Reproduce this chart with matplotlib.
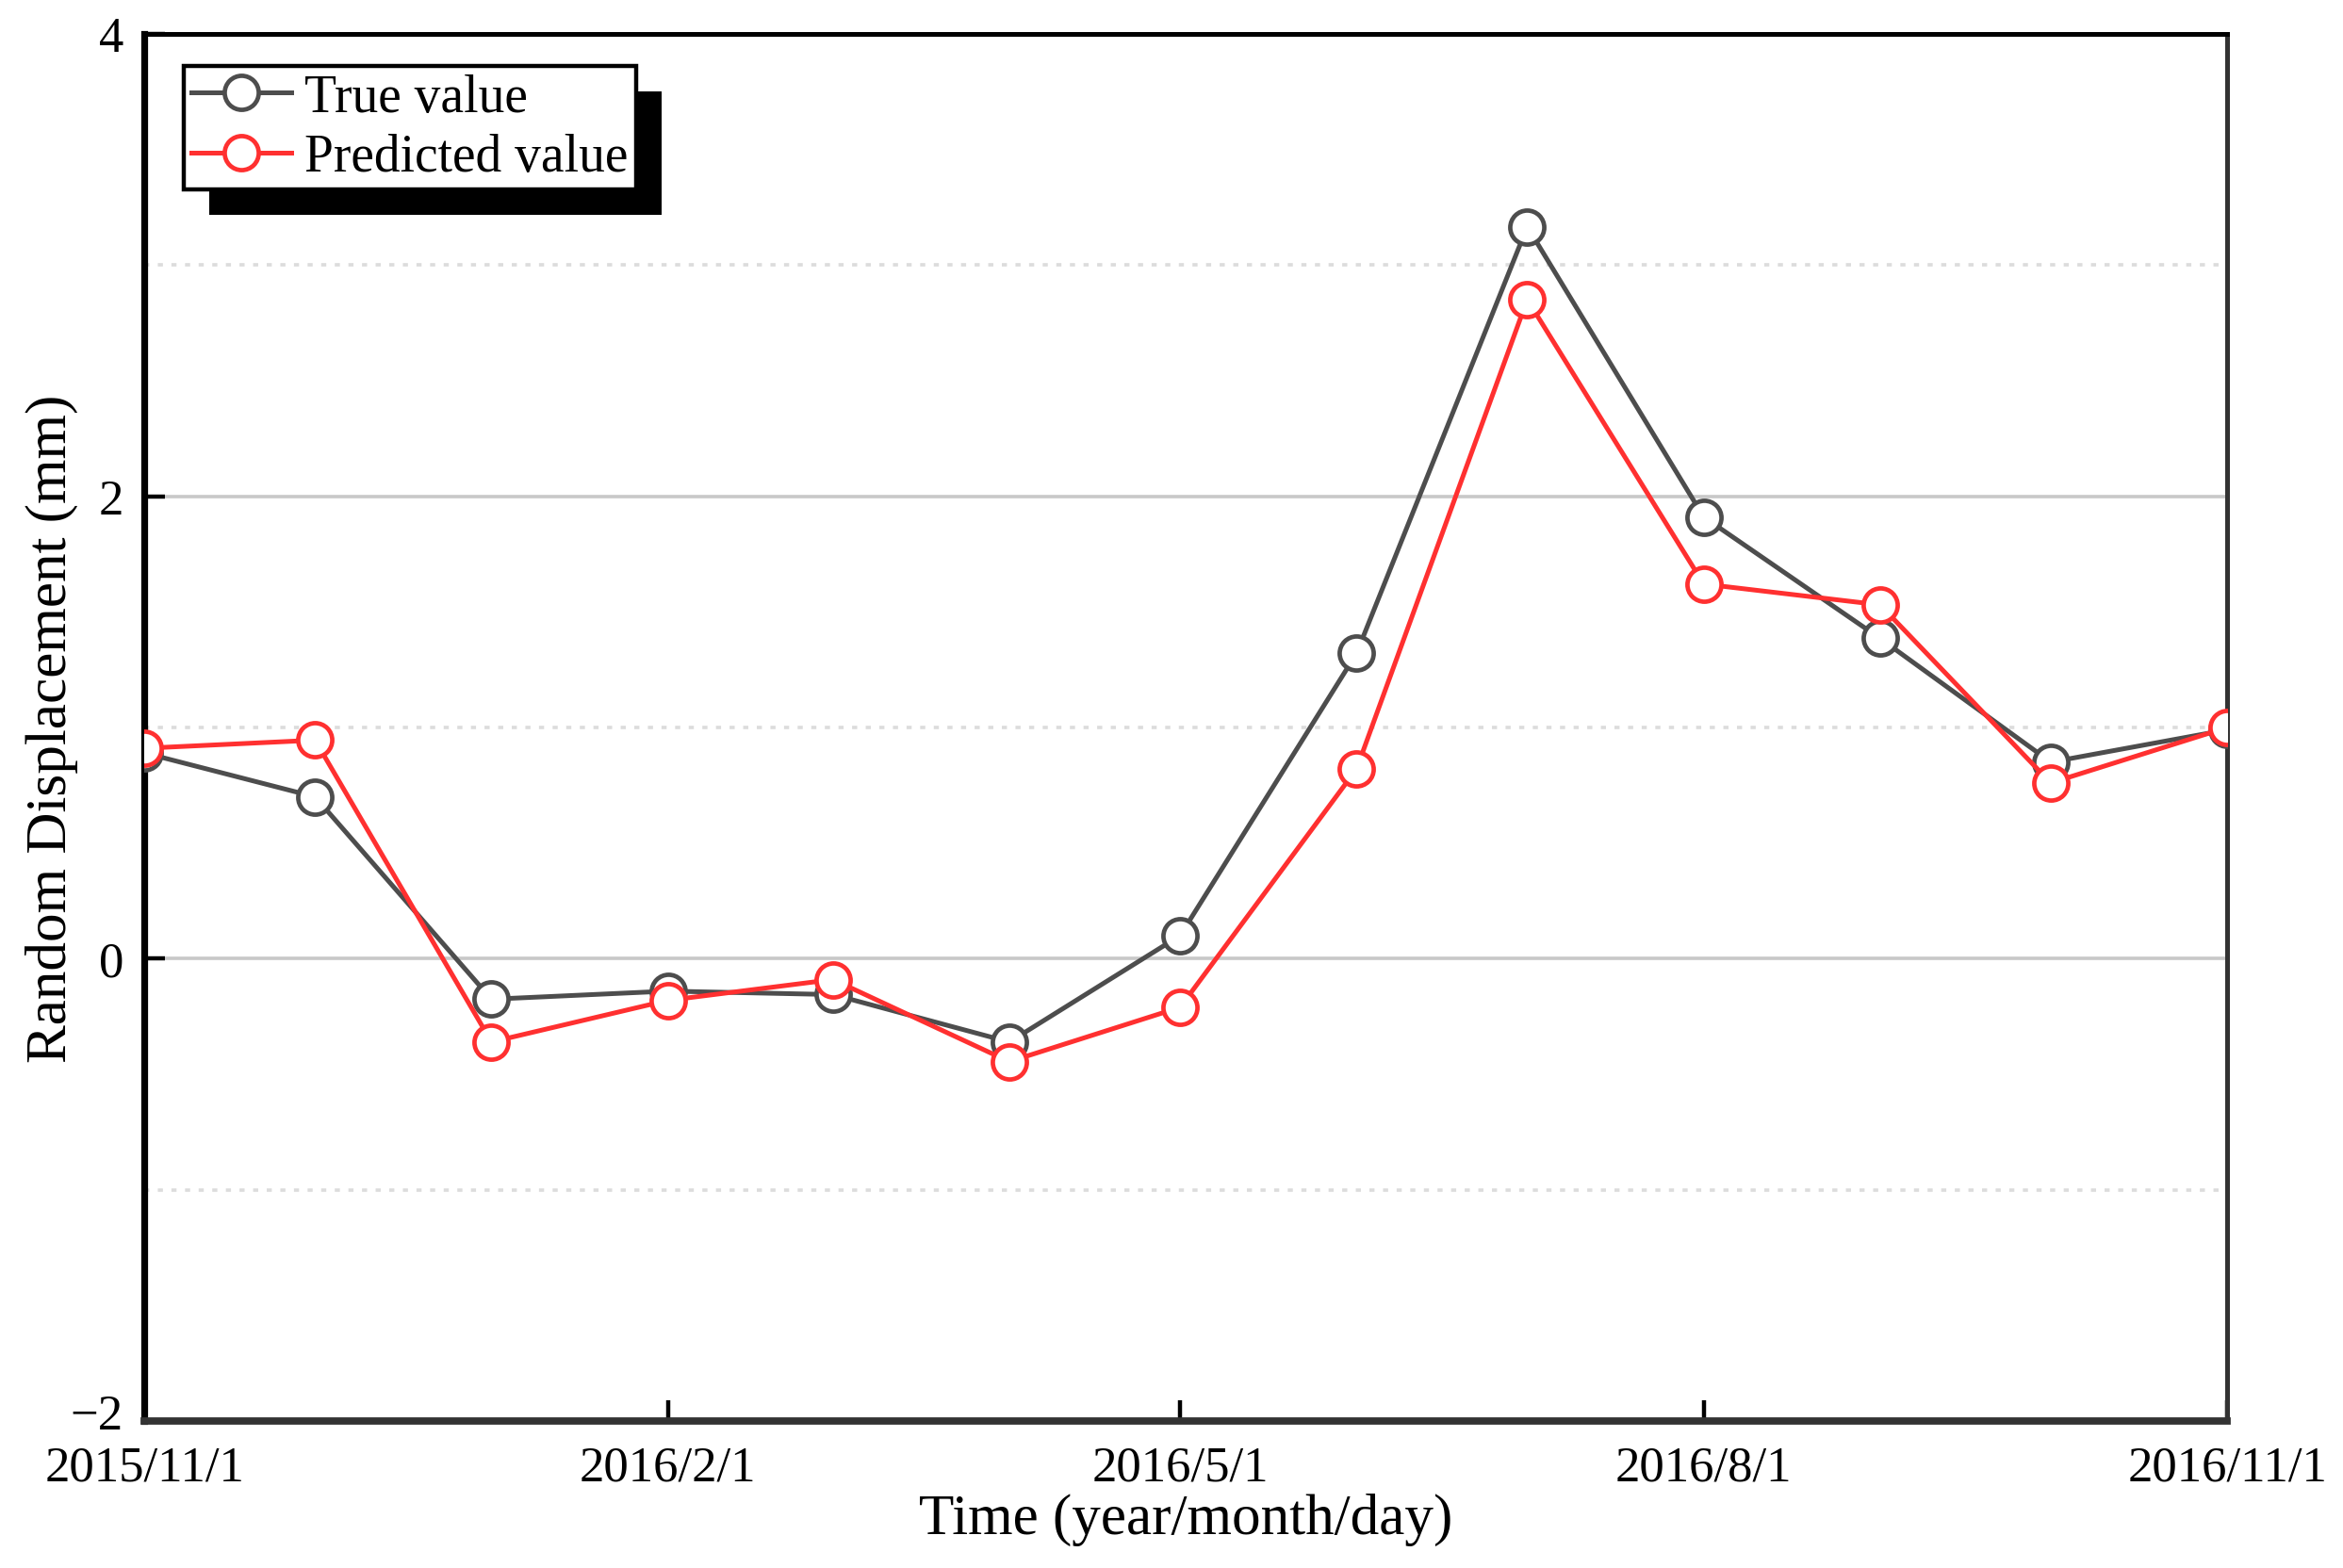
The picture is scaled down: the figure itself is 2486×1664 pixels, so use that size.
import numpy as np
import pandas as pd
import matplotlib
matplotlib.use("Agg")
import matplotlib.pyplot as plt
import matplotlib.transforms as mtransforms
from matplotlib.patches import Rectangle

dates = ["2015-11-01", "2015-12-01", "2016-01-01", "2016-02-01", "2016-03-01",
         "2016-04-01", "2016-05-01", "2016-06-01", "2016-07-01", "2016-08-01",
         "2016-09-01", "2016-10-01", "2016-11-01"]
true_value = [0.89, 0.70, -0.175, -0.14, -0.155, -0.36, 0.10, 1.32, 3.165, 1.91, 1.385, 0.85, 0.99]
predicted_value = [0.91, 0.945, -0.36, -0.18, -0.09, -0.445, -0.21, 0.82, 2.85, 1.62, 1.53, 0.76, 1.00]

tick_dates = ["2015-11-01", "2016-02-01", "2016-05-01", "2016-08-01", "2016-11-01"]
tick_labels = ["2015/11/1", "2016/2/1", "2016/5/1", "2016/8/1", "2016/11/1"]

plt.rcParams['font.family'] = ['Liberation Serif', 'DejaVu Serif']

x = pd.to_datetime(dates)
xt = pd.to_datetime(tick_dates)

fig = plt.figure(figsize=(12.43, 8.325), dpi=200)
ax = fig.add_axes([0.0616, 0.0935, 0.889, 0.8845])

ax.plot(x, true_value, color="#4d4d4d", lw=1.8, marker="o", ms=13, mfc="white",
        mec="#4d4d4d", mew=1.7, label="True value", zorder=3)
ax.plot(x, predicted_value, color="#ff3030", lw=1.8, marker="o", ms=13, mfc="white",
        mec="#ff3030", mew=1.7, label="Predicted value", zorder=4)

ax.set_xlim(xt[0], xt[-1])
ax.set_ylim(-2, 4)
ax.set_xticks(xt)
ax.set_xticklabels(tick_labels)
ax.set_yticks([-2, 0, 2, 4])
ax.set_yticklabels(["\u22122", "0", "2", "4"])
ax.set_yticks([-1, 1, 3], minor=True)
ax.xaxis.set_minor_locator(matplotlib.ticker.NullLocator())

ax.grid(True, which="major", axis="y", color="#c8c8c8", lw=1.3, ls="-")
ax.grid(True, which="minor", axis="y", color="#dcdcdc", lw=1.3, ls=(0, (1.5, 2.5)))
ax.set_axisbelow(True)

ax.tick_params(axis="x", direction="in", length=8, width=1.6, labelsize=19, pad=9)
ax.tick_params(axis="y", which="major", direction="in", length=8, width=1.6, labelsize=19, pad=8)
ax.tick_params(axis="y", which="minor", length=0)

# nudge the bottom y label up so it clears the first date label
lab = ax.get_yticklabels()[0]
lab.set_transform(lab.get_transform() + mtransforms.ScaledTranslation(0, 4 / 72, fig.dpi_scale_trans))

ax.spines["top"].set_linewidth(1.8)
ax.spines["bottom"].set_linewidth(2.8)
ax.spines["bottom"].set_color("#333333")
ax.spines["left"].set_linewidth(2.6)
ax.spines["right"].set_linewidth(1.8)
ax.spines["right"].set_color("#333333")

ax.set_xlabel("Time (year/month/day)", fontsize=22, labelpad=1)
ax.set_ylabel("Random Displacement (mm)", fontsize=22, labelpad=-3)

leg = ax.legend(loc="upper left", bbox_to_anchor=(0.019, 0.977), fancybox=False,
                frameon=True, framealpha=1, edgecolor="black", fontsize=20,
                handlelength=1.9, handletextpad=0.25, borderpad=0.15,
                labelspacing=0.2, borderaxespad=0)
leg.get_frame().set_linewidth(1.6)
leg.set_zorder(10)

fig.canvas.draw()
bb = leg.get_window_extent().transformed(fig.transFigure.inverted())
off_x = 27 / 2486
off_y = 27 / 1665
shadow = Rectangle((bb.x0 + off_x, bb.y0 - off_y), bb.width, bb.height,
                   transform=fig.transFigure, facecolor="black", edgecolor="none", zorder=9)
shadow.set_clip_on(False)
ax.add_artist(shadow)

fig.savefig("out.png", dpi=200)
